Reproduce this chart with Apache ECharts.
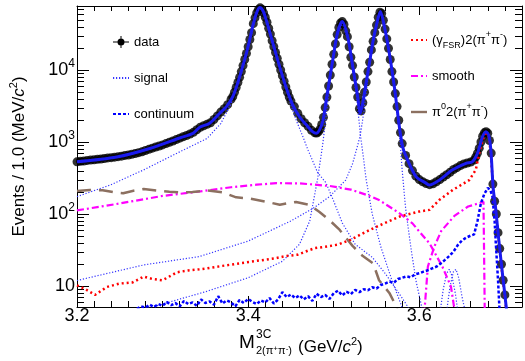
<!DOCTYPE html>
<html>
<head>
<meta charset="utf-8">
<script src="https://cdn.jsdelivr.net/npm/echarts/dist/echarts.min.js"></script>
<style>html,body{margin:0;padding:0;background:#fff}#chart{width:525px;height:361px}</style>
</head>
<body>
<div id="chart"></div>
<script>
// axis ranges
var xMin = 3.2, xMax = 3.72;
var yMin = 5.1, yMax = 77400;
var xTickLabels = [3.2, 3.4, 3.6];

// data points (M, events per bin)
var dataPoints = [
  [3.200,530],[3.204,540],[3.208,545],[3.212,555],[3.216,560],[3.220,565],[3.224,575],[3.228,580],
  [3.232,590],[3.236,600],[3.240,605],[3.244,615],[3.248,625],[3.252,635],[3.256,650],[3.260,660],
  [3.264,675],[3.268,690],[3.272,710],[3.276,730],[3.280,760],[3.284,790],[3.288,820],[3.292,850],
  [3.296,880],[3.300,910],[3.304,950],[3.308,990],[3.312,1030],[3.316,1080],[3.320,1130],[3.324,1180],
  [3.328,1230],[3.332,1290],[3.336,1360],[3.340,1480],[3.344,1600],[3.348,1680],[3.352,1760],[3.356,1850],
  [3.360,2050],[3.364,2300],[3.368,2600],[3.372,2900],[3.376,3300],[3.380,3900],
  [3.382,4260],[3.384,4900],[3.386,5700],[3.388,6700],[3.390,7900],[3.392,9500],[3.394,11500],[3.396,14000],
  [3.398,17000],[3.400,21000],[3.402,26500],[3.404,33000],[3.406,44000],[3.408,53000],[3.410,62000],[3.412,69000],
  [3.414,73000],[3.416,70000],[3.418,62000],[3.420,54000],[3.422,46000],[3.424,38000],[3.426,31500],[3.428,25500],
  [3.430,21000],[3.432,17500],[3.434,14500],[3.436,12000],[3.438,10000],[3.440,8300],[3.442,7000],[3.444,5800],
  [3.446,4900],[3.448,4200],[3.450,3700],
  [3.454,3100],[3.458,2500],[3.462,2100],[3.466,1850],[3.470,1650],[3.474,1450],[3.478,1340],
  [3.480,1330],[3.482,1380],[3.484,1500],[3.486,1750],[3.488,2200],[3.490,3000],[3.492,4200],[3.494,6000],
  [3.496,8500],[3.498,12000],[3.500,16500],[3.502,23000],[3.504,31000],[3.506,39000],[3.508,45000],[3.510,47000],
  [3.512,43000],[3.514,35000],[3.516,29000],[3.518,21000],[3.520,15000],[3.522,11500],[3.524,8000],[3.526,5700],
  [3.528,4200],[3.530,2900],[3.532,2700],[3.534,3500],[3.536,4900],[3.538,6800],[3.540,9500],[3.542,12800],
  [3.544,19000],[3.546,25000],[3.548,33000],[3.550,42000],[3.552,54000],[3.554,63500],[3.556,61000],[3.558,49000],
  [3.560,37000],[3.562,27000],[3.564,20000],[3.566,14000],[3.568,9500],[3.570,6800],[3.572,4700],[3.574,3100],
  [3.576,2000],[3.578,1350],[3.580,950],
  [3.584,650],[3.588,500],[3.592,400],[3.596,335],[3.600,300],[3.604,280],[3.608,265],[3.612,255],
  [3.616,262],[3.620,280],[3.624,300],[3.628,325],[3.632,350],[3.636,380],[3.640,415],[3.644,440],
  [3.648,470],[3.652,495],[3.656,510],[3.660,525],[3.664,560],
  [3.666,620],[3.668,700],[3.670,820],[3.672,1000],[3.674,1200],[3.676,1340],[3.678,1390],[3.680,1320],
  [3.682,1050],[3.684,700],[3.686,260],[3.688,150],[3.690,100],[3.692,55],[3.694,33],[3.696,20],
  [3.698,12],[3.700,7.5],[3.702,5]
];

// total fit
var fitTotal = [
  [3.200,530],[3.2466,617],[3.285,810],[3.320,1136],[3.336,1330],[3.3434,1600],[3.355,1820],[3.3668,2510],
  [3.3746,3100],[3.382,4260],[3.3878,6600],[3.3936,11200],[3.3979,17000],[3.4017,26000],[3.4052,40000],[3.4096,61000],
  [3.4134,74000],[3.4169,68000],[3.4212,49000],[3.4251,34000],[3.4289,23500],[3.4367,11200],[3.4446,5600],[3.4522,3250],
  [3.460,2240],[3.4679,1730],[3.4756,1380],[3.4795,1320],[3.4834,1470],[3.4875,2000],[3.4912,3800],[3.495,7200],
  [3.4989,13800],[3.5044,32700],[3.5099,47000],[3.5164,28700],[3.5222,11200],[3.528,4260],[3.5312,2510],[3.5339,3470],
  [3.5378,6600],[3.5417,12400],[3.5455,23500],[3.5495,40000],[3.5545,64700],[3.5592,40000],[3.565,17000],[3.5708,5900],
  [3.5767,1630],[3.5806,850],[3.5845,630],[3.5962,330],[3.6078,268],[3.6117,253],[3.6233,295],[3.6389,410],
  [3.6545,505],[3.6622,535],[3.668,700],[3.6738,1180],[3.6778,1390],[3.681,1250],[3.6836,770],[3.6863,230],
  [3.6894,114],[3.6925,48],[3.6971,15],[3.7003,7],[3.703,3.5]
];

// signal components
var signalChic0 = [
  [3.200,174],[3.239,253],[3.278,410],[3.317,700],[3.352,1120],[3.368,1800],[3.380,3400],[3.388,6500],
  [3.396,13500],[3.402,25000],[3.406,40000],[3.410,60000],[3.4134,71500],[3.417,65000],[3.422,45000],[3.429,22500],
  [3.437,10500],[3.445,5000],[3.449,3500],[3.456,2030],[3.464,1180],[3.470,770],[3.481,380],[3.491,270],
  [3.500,150],[3.510,75],[3.525,38],[3.545,25],[3.560,15],[3.573,9],[3.585,5.5],[3.595,3.5]
];
var signalChic1 = [
  [3.200,3.5],[3.290,5.2],[3.350,8.3],[3.400,13],[3.440,22],[3.460,38],[3.472,80],[3.481,300],
  [3.487,900],[3.492,2800],[3.496,7500],[3.500,15000],[3.504,29000],[3.5099,45500],[3.516,27500],[3.522,10500],
  [3.527,4000],[3.531,1300],[3.534,700],[3.538,295],[3.545,100],[3.555,35],[3.568,12],[3.580,5],[3.590,3]
];
var signalChic2 = [
  [3.200,11.9],[3.278,19.6],[3.343,25.6],[3.400,42],[3.450,80],[3.476,120],[3.495,174],[3.514,295],
  [3.522,500],[3.528,900],[3.531,1250],[3.535,2500],[3.538,5000],[3.542,11500],[3.5455,22000],[3.5495,38000],
  [3.5545,63000],[3.5592,39000],[3.565,16500],[3.5708,5500],[3.5767,1400],[3.580,400],[3.584,120],[3.590,35],
  [3.596,12],[3.603,5],[3.610,3]
];
var signalBumpA = [
  [3.6245,4.5],[3.628,9],[3.632,15],[3.635,17],[3.638,14],[3.642,8],[3.645,4.5]
];
var signalBumpB = [
  [3.632,4.5],[3.636,10],[3.640,16],[3.643,17],[3.646,13],[3.650,7],[3.6535,4.5]
];

// backgrounds
var continuumBkg = [
  [3.270,4.8],[3.275,5.2],[3.280,5.0],[3.285,5.5],[3.290,5.1],[3.295,5.6],[3.300,5.3],[3.305,6.0],
  [3.310,5.4],[3.315,5.8],[3.320,5.2],[3.325,6.2],[3.330,5.6],[3.335,5.9],[3.340,5.3],[3.345,6.5],
  [3.350,5.8],[3.355,6.1],[3.360,5.5],[3.365,7.2],[3.370,5.7],[3.375,6.3],[3.380,5.9],[3.385,5.2],
  [3.390,6.4],[3.395,5.8],[3.400,6.6],[3.405,6.0],[3.410,5.6],[3.415,6.3],[3.420,5.9],[3.425,6.8],
  [3.430,5.7],[3.435,6.5],[3.440,8.2],[3.445,7.0],[3.450,7.6],[3.455,6.8],[3.460,7.4],[3.465,6.5],
  [3.470,7.2],[3.475,6.2],[3.480,7.8],[3.485,7.0],[3.490,7.5],[3.495,6.6],[3.500,7.9],[3.505,8.6],
  [3.510,7.4],[3.515,8.3],[3.520,7.7],[3.525,8.8],[3.530,8.2],[3.535,9.0],[3.540,8.7],[3.545,9.6],
  [3.550,9.2],[3.555,10.3],[3.560,10.8],[3.565,11.5],[3.570,11.0],[3.575,12.5],[3.580,13.0],[3.585,13.6],
  [3.590,13.2],[3.595,14.5],[3.600,15.0],[3.605,15.8],[3.610,16.5],[3.615,17.5],[3.620,18.5],[3.625,20.5],
  [3.630,23],[3.635,26],[3.640,30],[3.645,37],[3.650,43],[3.655,47],[3.660,50],[3.664,52],
  [3.668,80],[3.672,141],[3.676,190],[3.680,230],[3.683,215],[3.6855,174],[3.688,80],[3.6894,39],
  [3.692,12],[3.694,4]
];
var fsrBkg = [
  [3.200,10.2],[3.210,9.0],[3.221,7.5],[3.235,9.7],[3.250,10.8],[3.265,11.2],[3.278,13.5],[3.288,12.5],
  [3.300,12.0],[3.317,15.5],[3.330,16.4],[3.343,17.0],[3.352,17.6],[3.370,19],[3.391,20.7],[3.410,22.3],
  [3.430,24],[3.444,26],[3.458,27.2],[3.470,31],[3.478,33.5],[3.490,35],[3.505,37.5],[3.520,44],
  [3.542,60],[3.560,75],[3.577,92],[3.600,108],[3.612,114],[3.6233,156],[3.639,215],[3.6583,295],
  [3.666,410],[3.670,700],[3.674,1070],[3.678,1320],[3.681,1200],[3.6836,700],[3.6863,220],[3.6894,110],
  [3.6925,46],[3.6971,14],[3.7003,6.5],[3.703,3.3]
];
var smoothMain = [
  [3.200,112],[3.250,140],[3.300,178],[3.343,205],[3.380,235],[3.410,255],[3.433,268],[3.460,266],
  [3.495,245],[3.520,218],[3.542,178],[3.553,156],[3.577,102],[3.592,74],[3.608,44],[3.612,39],
  [3.627,18.5],[3.637,9.8],[3.642,4]
];
var smoothTail = [
  [3.6057,4],[3.610,18.6],[3.6175,35],[3.6256,58],[3.641,94],[3.657,127],[3.670,141],[3.675,148],[3.6765,4]
];
var pi0Bkg = [
  [3.200,208],[3.215,215],[3.230,214],[3.243,200],[3.254,194],[3.266,210],[3.278,222],[3.293,212],
  [3.308,204],[3.322,198],[3.335,202],[3.3516,212],[3.370,200],[3.386,170],[3.402,164],[3.421,148],
  [3.437,134],[3.448,142],[3.456,147],[3.472,133],[3.483,107],[3.495,82],[3.507,60],[3.522,36],
  [3.534,26],[3.546,20.6],[3.553,12],[3.565,8],[3.573,5.2],[3.578,3.5]
];

var FONT = 'Liberation Sans, Arial, sans-serif';
var FSR_NAME = '(γFSR)2(π+π-)';
var PI0_NAME = 'π02(π+π-)';
var PI0_COLOR = '#8c7060';
var legendRich = {
  sup: {fontSize: 9, verticalAlign: 'top', fontFamily: FONT},
  sub: {fontSize: 9, verticalAlign: 'bottom', fontFamily: FONT}
};
var dataIcon = 'path://M0,5.5H16V6.5H0Z M7.5,0H8.5V12H7.5Z M11.5,6A3.5,3.5,0,1,1,4.5,6A3.5,3.5,0,1,1,11.5,6Z';
var barIcon = 'path://M0,0H16V2.4H0Z';

function lineSeries(name, data, color, width, type) {
  return {
    name: name, type: 'line', data: data, symbol: 'none', showSymbol: false,
    lineStyle: {color: color, width: width, type: type}, itemStyle: {color: color},
    animation: false, silent: true
  };
}

var chart = echarts.init(document.getElementById('chart'));
var sigColor = '#3636ff';
var option = {
  animation: false,
  backgroundColor: '#fff',
  grid: {left: 77, right: 3, top: 6, bottom: 54, outerBoundsMode: 'none'},
  legend: [{
    left: 107, top: 27, orient: 'vertical', itemGap: 16, itemWidth: 16, itemHeight: 12,
    itemStyle: {opacity: 0},
    textStyle: {fontSize: 13, fontFamily: FONT, color: '#000', lineHeight: 20},
    data: [
      {name: 'data', icon: dataIcon, itemStyle: {color: '#000', opacity: 1}},
      {name: 'signal'},
      {name: 'continuum'}
    ]
  }, {
    left: 405, top: 25, orient: 'vertical', itemGap: 16, itemWidth: 16, itemHeight: 12,
    itemStyle: {opacity: 0},
    textStyle: {fontSize: 13, fontFamily: FONT, color: '#000', lineHeight: 20, rich: legendRich},
    formatter: function (n) {
      if (n === FSR_NAME) return '(γ{sub|FSR})2(π{sup|+}π{sup|-})';
      if (n === PI0_NAME) return 'π{sup|0}2(π{sup|+}π{sup|-})';
      return n;
    },
    data: [
      {name: FSR_NAME},
      {name: 'smooth'},
      {name: PI0_NAME, icon: barIcon, itemWidth: 16, itemHeight: 2.4, itemStyle: {color: PI0_COLOR, opacity: 1}}
    ]
  }],
  xAxis: [
    {type: 'value', min: xMin, max: xMax, interval: 0.2, position: 'bottom',
     axisLine: {lineStyle: {color: '#000', width: 1}},
     axisTick: {inside: true, length: 11, lineStyle: {color: '#000'}},
     axisLabel: {color: '#000', fontSize: 18, fontFamily: FONT, margin: 0, showMaxLabel: false,
       formatter: function (v) { return xTickLabels.indexOf(Math.round(v * 10) / 10) >= 0 ? v.toFixed(1) : ''; }},
     splitLine: {show: false}},
    {type: 'value', min: xMin, max: xMax, interval: 0.02, position: 'bottom',
     axisLine: {show: false}, axisTick: {inside: true, length: 6, lineStyle: {color: '#000'}},
     axisLabel: {show: false}, splitLine: {show: false}},
    {type: 'value', min: xMin, max: xMax, interval: 0.2, position: 'top',
     axisLine: {lineStyle: {color: '#000', width: 1}},
     axisTick: {inside: true, length: 9, lineStyle: {color: '#000'}},
     axisLabel: {show: false}, splitLine: {show: false}},
    {type: 'value', min: xMin, max: xMax, interval: 0.02, position: 'top',
     axisLine: {show: false}, axisTick: {inside: true, length: 5, lineStyle: {color: '#000'}},
     axisLabel: {show: false}, splitLine: {show: false}}
  ],
  yAxis: [
    {type: 'log', min: yMin, max: yMax, position: 'left',
     name: 'Events / 1.0 (MeV/{i|c}{s|2})', nameLocation: 'middle', nameGap: 47,
     nameTextStyle: {fontSize: 17, fontFamily: FONT, color: '#000', lineHeight: 22,
       rich: {i: {fontStyle: 'italic', fontSize: 17, fontFamily: FONT}, s: {fontSize: 11, verticalAlign: 'top', fontFamily: FONT}}},
     axisLine: {lineStyle: {color: '#000', width: 1}},
     axisTick: {inside: true, length: 12, lineStyle: {color: '#000'}},
     axisLabel: {color: '#000', fontFamily: FONT, margin: 2, showMinLabel: false, showMaxLabel: false,
       formatter: function (v) {
         var e = Math.round(Math.log10(v));
         return e === 1 ? '{b|10}' : '{b|10}{s|' + e + '}';
       },
       rich: {b: {fontSize: 18, fontFamily: FONT, lineHeight: 24, color: '#000'},
              s: {fontSize: 12, fontFamily: FONT, verticalAlign: 'top', color: '#000'}}},
     splitLine: {show: false}},
    {type: 'log', min: yMin, max: yMax, position: 'right',
     axisLine: {lineStyle: {color: '#000', width: 1}},
     axisTick: {inside: true, length: 12, lineStyle: {color: '#000'}},
     axisLabel: {show: false}, splitLine: {show: false}}
  ],
  series: [
    lineSeries('signal', signalChic0, sigColor, 1.2, [1.2, 1.8]),
    lineSeries('signal', signalChic1, sigColor, 1.2, [1.2, 1.8]),
    lineSeries('signal', signalChic2, sigColor, 1.2, [1.2, 1.8]),
    lineSeries('signal', signalBumpA, sigColor, 1.2, [1.2, 1.8]),
    lineSeries('signal', signalBumpB, sigColor, 1.2, [1.2, 1.8]),
    lineSeries('smooth', smoothMain, '#ff00ff', 2.2, [7, 3, 2, 3]),
    lineSeries('smooth', smoothTail, '#ff00ff', 2.2, [7, 3, 2, 3]),
    lineSeries(PI0_NAME, pi0Bkg, PI0_COLOR, 2.5, [14, 8]),
    {name: 'data', type: 'scatter', data: dataPoints, symbol: 'circle', symbolSize: 9,
     itemStyle: {color: '#000'}, animation: false, silent: true},
    lineSeries('continuum', continuumBkg, '#0000ff', 2.5, [3, 2]),
    lineSeries(FSR_NAME, fsrBkg, '#ff0000', 2.5, [2, 3]),
    Object.assign(lineSeries('fit', fitTotal, '#1a1aee', 3, 'solid'), {smooth: 0.3})
  ]
};
chart.setOption(option);

// log-axis minor ticks (2..9 in each decade) and the x-axis title
var g = [];
var xl = chart.convertToPixel({xAxisIndex: 0}, xMin);
var xr = chart.convertToPixel({xAxisIndex: 0}, xMax);
for (var d = 0; d <= 4; d++) {
  for (var k = 2; k <= 9; k++) {
    var v = k * Math.pow(10, d);
    if (v < yMin || v > yMax) continue;
    var y = Math.round(chart.convertToPixel({yAxisIndex: 0}, v)) + 0.5;
    g.push({type: 'line', silent: true, shape: {x1: xl, y1: y, x2: xl + 7, y2: y}, style: {stroke: '#000', lineWidth: 1}});
    g.push({type: 'line', silent: true, shape: {x1: xr - 7, y1: y, x2: xr, y2: y}, style: {stroke: '#000', lineWidth: 1}});
  }
}
g.push({type: 'text', left: 239, top: 333, silent: true,
  style: {text: 'M', fontSize: 19, fontFamily: FONT, fill: '#000'}});
g.push({type: 'text', left: 256, top: 329, silent: true,
  style: {text: '3C', fontSize: 12, fontFamily: FONT, fill: '#000'}});
g.push({type: 'text', left: 256, top: 345, silent: true,
  style: {text: '2(π{s|+}π{s|-})', fontSize: 11, fontFamily: FONT, fill: '#000',
    rich: {s: {fontSize: 8, verticalAlign: 'top', fontFamily: FONT}}}});
g.push({type: 'text', left: 298, top: 336, silent: true,
  style: {text: '(GeV/{i|c}{s|2})', fontSize: 17, fontFamily: FONT, fill: '#000', lineHeight: 22,
    rich: {i: {fontStyle: 'italic', fontSize: 17, fontFamily: FONT}, s: {fontSize: 11, verticalAlign: 'top', fontFamily: FONT}}}});
chart.setOption({graphic: g});
</script>
</body>
</html>
